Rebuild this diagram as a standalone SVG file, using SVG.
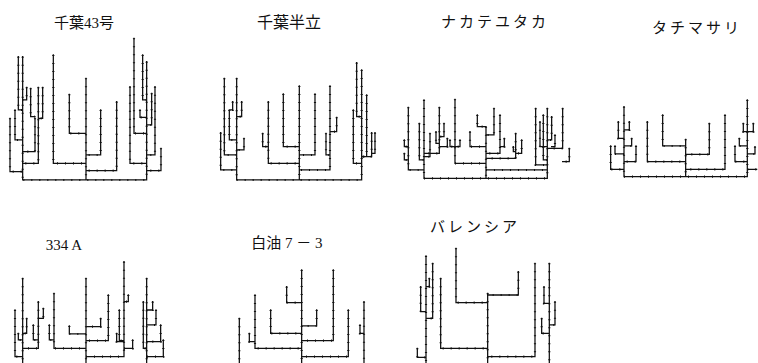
<svg xmlns="http://www.w3.org/2000/svg" xmlns:xlink="http://www.w3.org/1999/xlink" width="758" height="363" viewBox="0 0 758 363">
<style>
.t{font-family:"Liberation Serif","Noto Sans CJK JP",serif;font-size:15px;fill:#111;text-anchor:middle}
.k{letter-spacing:3px}
.s{fill:none;stroke:#111;stroke-width:3.8;stroke-linejoin:miter;stroke-linecap:square}
.n{fill:none;stroke:#111;stroke-width:6.5;stroke-dasharray:3 21;stroke-linecap:butt}
</style>
<defs>
<path id="d1" d="M70 540H440M258 235V540M68 170V540M440 185V540M160 165V490H258M208 283V400H258M302 330V465H258M350 305V512H258M55 170V330H68M80 262V300H68M128 262V355H115M115 262V490H68M30 355V515H68M45 330V420H68M105 355V455H68M92 265V350H105M402 115V400H440M390 260V490H440M428 165V300H440M420 330V352H440M455 280V375H440M465 260V465H440M483 445V512H440"/>
<path id="d2" d="M140 540H515M328 258V540M140 235V540M515 210V540M235 305V490H328M218 400V440H235M280 282V440H328M375 282V465H328M420 258V510H328M408 400V465H420M440 352V395H420M103 235V465H140M92 398V510H140M118 330V420H140M128 305V330H118M155 305V350H140M162 415V450H140M500 188V350H515M490 330V490H515M530 285V470H515M545 398V470H515M555 398V460H545"/>
<path id="d3" d="M162 535H532M348 380V535M162 300V535M532 325V535M115 322V510H162M103 420V440H115M103 460V480H115M148 370V480H162M180 400V470H162M208 322V460H162M198 395V430H208M222 370V410H208M232 415V440H208M255 298V490H348M240 420V440H255M270 420V440H255M300 395V440H348M322 345V380H348M372 325V405H348M390 345V460H348M403 415V440H390M437 400V475H348M455 420V460H437M430 440V455H437M348 510H532M497 325V495H532M510 365V440H532M520 345V480H532M545 350V420H532M555 405V440H545M578 325V445H532M598 445V485H578"/>
<path id="d4" d="M132 410H502M317 298V410M132 200V410M502 180V410M202 245V365H317M248 225V318H317M388 250V343H317M435 225V388H317M92 318V388H132M105 318V342H132M115 245V295H132M148 245V270H132M155 295V318H132M168 318V365H132M490 250V275H502M520 250V275H502M478 295V318H502M465 318V365H502M525 320V342H502M502 388H530"/>
<path id="d5" d="M258 350H372M258 115V375M68 115V375M372 65V350M440 115V375M45 210V350H68M55 280V300H68M80 235V280H68M115 185V325H68M130 205V235H115M100 255V300H115M162 160V325H258M148 255V300H162M208 258V282H258M302 235V260H258M325 165V302H258M358 210V302H372M350 280V305H372M398 300V325H372M385 165V185H372M430 185V325H440M458 185V210H440M468 210V255H440M482 255V305H440M490 300V350H440"/>
<path id="d6" d="M335 90V375M290 140V188H335M430 90V302H335M380 210V258H335M242 210V280H335M195 165V325H335M178 280V305H195M148 235V375M475 210V350H335M522 185V375M510 255V280H522"/>
<path id="d7" d="M263 160V375M168 25V188H263M355 95V165H263M122 115V325H263M405 70V350H263M78 48V375M98 70V235H78M88 115V140H78M62 140V215H78M52 325V352H78M448 70V375M432 140V190H448M465 185V255H448M425 235V280H448"/>
</defs>
<rect width="758" height="363" fill="#fff"/>
<g id="p1">
<text class="t" x="84" y="28" font-size="16">千葉43号</text>
<g transform="translate(0,0) scale(0.3333)"><use href="#d1" class="s"/><use href="#d1" class="n"/></g>
</g>
<g id="p2">
<text class="t" x="289" y="28" style="font-size:16px">千葉半立</text>
<g transform="translate(190,0) scale(0.3333)"><use href="#d2" class="s"/><use href="#d2" class="n"/></g>
</g>
<g id="p3">
<text class="t k" x="495" y="27">ナカテユタカ</text>
<g transform="translate(370,0) scale(0.3333)"><use href="#d3" class="s"/><use href="#d3" class="n"/></g>
</g>
<g id="p4">
<text class="t k" x="697" y="33">タチマサリ</text>
<g transform="translate(580,40) scale(0.3333)"><use href="#d4" class="s"/><use href="#d4" class="n"/></g>
</g>
<g id="p5">
<text class="t" x="64" y="250">334 A</text>
<g transform="translate(0,240) scale(0.3333)"><use href="#d5" class="s"/><use href="#d5" class="n"/></g>
</g>
<g id="p6">
<text class="t" x="287" y="248">白油 7 － 3</text>
<g transform="translate(190,240) scale(0.3333)"><use href="#d6" class="s"/><use href="#d6" class="n"/></g>
</g>
<g id="p7">
<text class="t k" x="475" y="232">バレンシア</text>
<g transform="translate(400,240) scale(0.3333)"><use href="#d7" class="s"/><use href="#d7" class="n"/></g>
</g>
</svg>
